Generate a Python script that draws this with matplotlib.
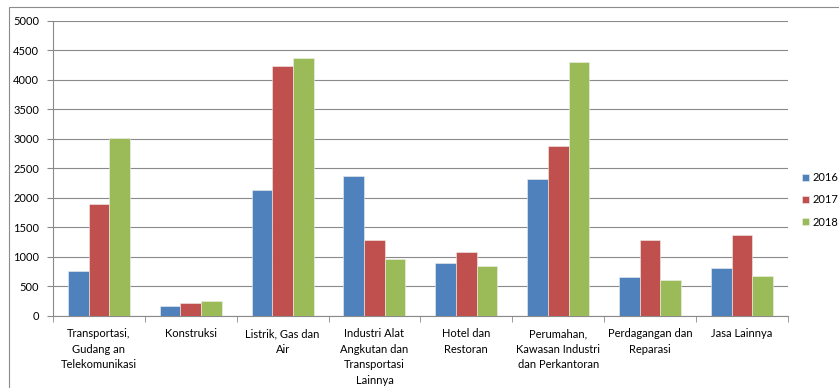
import numpy as np
import matplotlib.pyplot as plt
from matplotlib.patches import Rectangle

plt.rcParams['font.family'] = ['Lato', 'DejaVu Sans']

kategori = ['Transportasi,\nGudang an\nTelekomunikasi', 'Konstruksi', 'Listrik, Gas dan\nAir',
            'Industri Alat\nAngkutan dan\nTransportasi\nLainnya', 'Hotel dan\nRestoran',
            'Perumahan,\nKawasan Industri\ndan Perkantoran', 'Perdagangan dan\nReparasi', 'Jasa Lainnya']
tahun = ['2016', '2017', '2018']
v2016 = [760, 175, 2130, 2370, 890, 2320, 660, 820]
v2017 = [1900, 215, 4240, 1280, 1080, 2880, 1290, 1380]
v2018 = [3020, 250, 4380, 960, 850, 4310, 610, 680]
warna = ['#4F81BD', '#C0504D', '#9BBB59']

fig = plt.figure(figsize=(8.39, 3.88), dpi=100)
ax = fig.add_axes([0.0632, 0.1856, 0.8758, 0.7604])

# bingkai luar (terpotong di kanan/bawah)
fig.patches.append(Rectangle((9/839, -0.1), 2, 1 - 7/388 + 0.1, transform=fig.transFigure,
                             fill=False, edgecolor='#8c8c8c', lw=0.8))

x = np.arange(len(kategori))
w = 0.225
for i, (vals, c) in enumerate(zip([v2016, v2017, v2018], warna)):
    ax.bar(x + (i - 1) * w, vals, w, color=c, edgecolor='#f0f0f0', linewidth=0.4, label=tahun[i], zorder=3)

ax.set_xlim(-0.5, len(kategori) - 0.5)
ax.set_ylim(0, 5000)
ax.set_yticks(np.arange(0, 5001, 500))
ax.yaxis.grid(True, color='#8a8a8a', lw=0.8, zorder=0)
for s in ['top', 'right']:
    ax.spines[s].set_visible(False)
ax.spines['left'].set_color('#8a8a8a')
ax.spines['bottom'].set_color('#8a8a8a')

ax.set_xticks(x)
ax.set_xticklabels(kategori, fontsize=8, linespacing=1.5, va='top')
ax.tick_params(axis='x', length=0, pad=9)
ax.set_xticks(np.arange(-0.5, len(kategori)), minor=True)
ax.tick_params(axis='x', which='minor', length=4, color='#8a8a8a')
ax.tick_params(axis='y', labelsize=8, length=4, color='#8a8a8a', pad=6)

ax.legend(loc='center left', bbox_to_anchor=(792/839, 1 - 200/388), bbox_transform=fig.transFigure,
          frameon=False, fontsize=8, handlelength=0.6, handleheight=0.6, handletextpad=0.35,
          labelspacing=1.0)

plt.savefig('out.png', dpi=100)
